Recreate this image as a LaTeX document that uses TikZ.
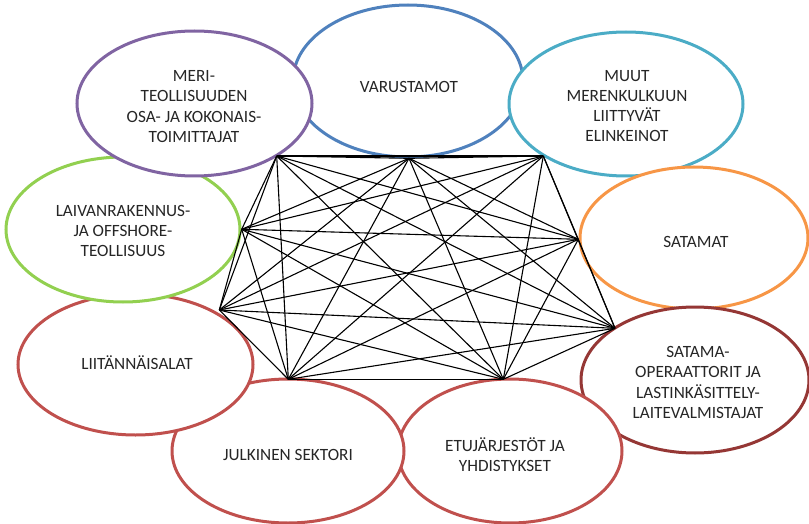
\documentclass[tikz,border=0pt]{standalone}
\usepackage{fontspec}
\setmainfont{Carlito}
\usetikzlibrary{shapes.geometric}
\definecolor{cblue}{HTML}{4F81BD}
\definecolor{cteal}{HTML}{4BACC6}
\definecolor{corange}{HTML}{F79646}
\definecolor{cdred}{HTML}{953735}
\definecolor{cred}{HTML}{C0504D}
\definecolor{cgreen}{HTML}{92D050}
\definecolor{cpurple}{HTML}{8064A2}
\definecolor{ctext}{HTML}{262626}
\tikzset{
  oval/.style={draw=#1, ellipse, fill=white, line width=3pt, inner sep=0pt},
  lab/.style={text=ctext, align=center, font=\fontsize{17.2}{20.3}\selectfont, inner sep=0pt},
  link/.style={draw=black, line width=1.1pt}
}
\begin{document}
\begin{tikzpicture}[x=1pt,y=-1pt]
\useasboundingbox (0,0) rectangle (809,524);
% ellipses, bottom to top
\node[oval=cblue, minimum width=230pt, minimum height=152pt] (e2) at (408,81) {};
\node[oval=cteal, minimum width=234pt, minimum height=144pt] (e3) at (626,104) {};
\node[oval=corange, minimum width=228pt, minimum height=142pt] (e4) at (694,238) {};
\node[oval=cdred, minimum width=228pt, minimum height=146pt] (e5) at (695,380) {};
\node[oval=cred, minimum width=224pt, minimum height=144pt] (e6) at (510,451) {};
\node[oval=cred, minimum width=232pt, minimum height=144pt] (e7) at (288,451) {};
\node[oval=cred, minimum width=235pt, minimum height=141pt] (e8) at (135.5,364.5) {};
\node[oval=cgreen, minimum width=234pt, minimum height=145pt] (e9) at (123,229.5) {};
\node[oval=cpurple, minimum width=235pt, minimum height=145pt] (e1) at (194.5,103.5) {};
% labels
\node[lab] (t1) at (194,106.5) {MERI-\\TEOLLISUUDEN\\OSA- JA KOKONAIS-\\TOIMITTAJAT};
\node[lab] (t2) at (409,87) {VARUSTAMOT};
\node[lab] (t3) at (627,106) {MUUT\\MERENKULKUUN\\LIITTYVÄT\\ELINKEINOT};
\node[lab] (t4) at (696,242) {SATAMAT};
\node[lab] (t5) at (698,382.5) {SATAMA-\\OPERAATTORIT JA\\LASTINKÄSITTELY-\\LAITEVALMISTAJAT};
\node[lab] (t6) at (505,455) {ETUJÄRJESTÖT JA\\YHDISTYKSET};
\node[lab] (t7) at (288,455) {JULKINEN SEKTORI};
\node[lab] (t8) at (137,363) {LIITÄNNÄISALAT};
\node[lab] (t9) at (123,231) {LAIVANRAKENNUS-\\JA OFFSHORE-\\TEOLLISUUS};
% network vertices
\coordinate (p1) at (276.7,156);
\coordinate (p2) at (409,158.3);
\coordinate (p3) at (543.3,156);
\coordinate (p4) at (578.3,239.3);
\coordinate (p5) at (615,328.3);
\coordinate (p6) at (503.3,379.3);
\coordinate (p7) at (288.3,379.3);
\coordinate (p8) at (219.3,310);
\coordinate (p9) at (241.7,229.3);
\foreach \i in {1,...,8}{
  \pgfmathtruncatemacro{\s}{\i+1}
  \foreach \j in {\s,...,9}{
    \draw[link] (p\i) -- (p\j);
  }
}
\end{tikzpicture}
\end{document}
